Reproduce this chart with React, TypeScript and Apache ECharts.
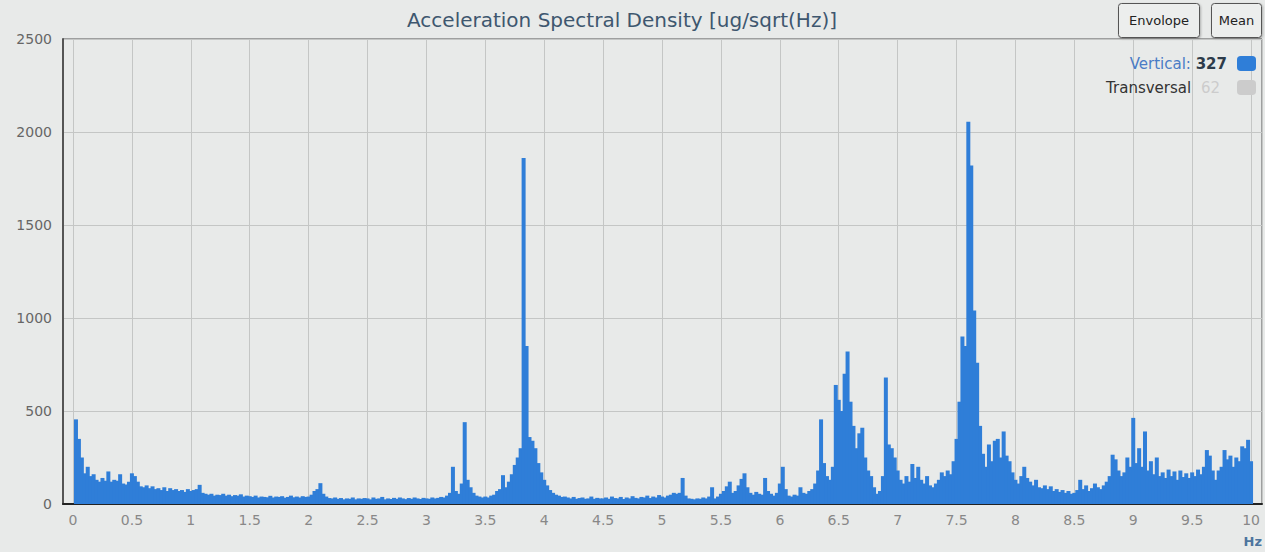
import { useEffect, useRef } from "react";
import * as echarts from "echarts";

// ---- texts ----
const TITLE = "Acceleration Spectral Density [ug/sqrt(Hz)]";
const X_UNIT = "Hz";
const SERIES_NAMES = ["Vertical", "Transversal"];
const LEGEND_VALUES = [327, 62];
const BUTTON_LABELS = ["Envolope", "Mean"];

// ---- axes ----
const BIN_HZ = 0.025; // frequency resolution of the spectrum bins
const X_MIN = -0.085;
const X_MAX = 10.093;
const X_STEP = 0.5;
const Y_MIN = 0;
const Y_MAX = 2500;
const Y_STEP = 500;

// ---- Vertical ASD values [ug/sqrt(Hz)], one value per bin, first bin at 0.025 Hz ----
const asd0to1Hz = [
  455, 350, 250, 165, 200, 150, 160, 130, 120, 140, 125, 175, 120, 130, 125, 160, 110, 105, 120,
  165, 150, 120, 95, 90, 100, 85, 95, 80, 85, 75, 90, 70, 85, 75, 80, 70, 75, 65, 80,
];
const asd1to2Hz = [
  70, 75, 80, 103, 60, 55, 50, 55, 45, 50, 48, 55, 45, 50, 42, 48, 45, 52, 40, 45,
  42, 38, 45, 35, 40, 38, 36, 44, 35, 40, 38, 42, 34, 38, 45, 36, 40, 35, 42, 38,
];
const asd2to3Hz = [
  40, 50, 70, 80, 112, 55, 40, 32, 30, 35, 28, 32, 25, 30, 28, 35, 25, 30, 28, 32,
  30, 25, 35, 28, 30, 38, 25, 30, 27, 33, 28, 35, 30, 26, 32, 28, 35, 30, 27, 33,
];
const asd3to4Hz = [
  30, 28, 35, 30, 33, 38, 35, 45, 60, 200, 70, 55, 110, 440, 130, 90, 60, 45, 40, 35,
  40, 35, 45, 50, 70, 80, 155, 90, 120, 160, 210, 250, 300, 1860, 850, 360, 340, 300, 220, 170,
];
const asd4to5Hz = [
  130, 100, 75, 60, 50, 45, 38, 40, 35, 30, 38, 28, 32, 35, 28, 30, 40, 28, 33, 30,
  30, 35, 28, 40, 32, 30, 38, 27, 35, 30, 42, 33, 30, 38, 35, 45, 32, 40, 35, 48,
];
const asd5to6Hz = [
  40, 35, 45, 50, 60, 55, 60, 140, 45, 30, 28, 25, 30, 28, 35, 30, 40, 90, 30, 40,
  55, 70, 95, 120, 60, 70, 100, 135, 165, 90, 60, 50, 65, 55, 50, 140, 70, 55, 45, 60,
];
const asd6to7Hz = [
  110, 200, 80, 45, 40, 50, 45, 90, 60, 55, 70, 80, 110, 180, 455, 220, 150, 130, 200, 640,
  560, 500, 700, 820, 550, 420, 300, 380, 410, 250, 180, 150, 90, 55, 70, 150, 680, 320, 300, 250,
];
const asd7to8Hz = [
  180, 130, 110, 150, 120, 215, 140, 200, 130, 110, 150, 100, 90, 110, 130, 170, 150, 180, 160, 230,
  350, 550, 900, 850, 2055, 1820, 1040, 760, 420, 270, 200, 320, 230, 340, 350, 250, 390, 260, 230, 170,
];
const asd8to9Hz = [
  130, 110, 150, 200, 140, 120, 100, 130, 90, 85, 100, 80, 95, 70, 80, 65, 75, 60, 70, 55,
  60, 75, 130, 80, 100, 70, 85, 110, 90, 80, 100, 120, 150, 265, 240, 180, 150, 170, 250, 200,
];
const asd9to10Hz = [
  463, 220, 300, 200, 390, 180, 230, 160, 250, 150, 170, 140, 185, 150, 175, 130, 180, 145, 165, 140,
  170, 150, 185, 160, 200, 290, 260, 180, 130, 180, 200, 290, 240, 260, 200, 250, 230, 310, 300, 345,
  230,
];

const verticalAsd = [
  ...asd0to1Hz, ...asd1to2Hz, ...asd2to3Hz, ...asd3to4Hz, ...asd4to5Hz,
  ...asd5to6Hz, ...asd6to7Hz, ...asd7to8Hz, ...asd8to9Hz, ...asd9to10Hz,
];
const transversalAsd: number[] = []; // hidden series (legend item switched off)

const FONT = "DejaVu Sans";

function buildOption() {
  const vData = verticalAsd.map((v, i) => [Number(((i + 1) * BIN_HZ).toFixed(3)), v]);
  const tData = transversalAsd.map((v, i) => [Number(((i + 1) * BIN_HZ).toFixed(3)), v]);

  const buttonGraphics = [
    { label: BUTTON_LABELS[0], left: 1118, width: 81 },
    { label: BUTTON_LABELS[1], left: 1211, width: 50 },
  ].map((b) => ({
    type: "group",
    left: b.left,
    top: 3,
    z: 100,
    children: [
      {
        type: "rect",
        shape: { x: 0, y: 0, width: b.width, height: 34, r: 3 },
        style: {
          fill: "#eceeed",
          stroke: "#555555",
          lineWidth: 1,
          shadowBlur: 2,
          shadowOffsetX: 1,
          shadowOffsetY: 1,
          shadowColor: "rgba(0,0,0,0.25)",
        },
      },
      {
        type: "text",
        style: {
          text: b.label,
          x: b.width / 2,
          y: 17,
          align: "center",
          verticalAlign: "middle",
          fontSize: 13,
          fontFamily: FONT,
          fill: "#222222",
        },
      },
    ],
  }));

  return {
    animation: false,
    backgroundColor: "#e8eae9",
    textStyle: { fontFamily: FONT },
    title: {
      text: TITLE,
      left: 617,
      top: 5,
      textAlign: "center",
      textStyle: { fontSize: 20, fontWeight: "normal", color: "#3e576f", fontFamily: FONT },
    },
    grid: {
      left: 63,
      right: 3,
      top: 39,
      bottom: 48,
      show: true,
      borderColor: "#555555",
      borderWidth: 1,
      backgroundColor: "transparent",
      containLabel: false,
      outerBoundsMode: "none",
    },
    legend: {
      orient: "vertical",
      right: 9,
      top: 56,
      padding: 0,
      align: "right",
      icon: "roundRect",
      itemWidth: 19,
      itemHeight: 15,
      itemGap: 9,
      data: SERIES_NAMES,
      selected: { [SERIES_NAMES[1]]: false },
      inactiveColor: "#cccccc",
      formatter: (name: string) =>
        name === SERIES_NAMES[0]
          ? `{a|${name}:} {b|${LEGEND_VALUES[0]}}`
          : `{c|${name}} {d|${LEGEND_VALUES[1]}}`,
      textStyle: {
        fontSize: 15,
        fontFamily: FONT,
        color: "#333333",
        rich: {
          a: { color: "#4a7cc6", fontSize: 15, fontFamily: FONT },
          b: { color: "#2d3b4a", fontSize: 15, fontWeight: "bold", fontFamily: FONT, padding: [0, 5, 0, 0] },
          c: { color: "#333333", fontSize: 15, fontFamily: FONT },
          d: { color: "#cccccc", fontSize: 15, fontFamily: FONT, padding: [0, 12, 0, 5] },
        },
      },
    },
    xAxis: {
      type: "value",
      min: X_MIN,
      max: X_MAX,
      splitNumber: 20,
      minInterval: X_STEP,
      maxInterval: X_STEP,
      name: X_UNIT,
      nameLocation: "end",
      nameGap: 0,
      nameTextStyle: {
        color: "#4d759e",
        fontWeight: "bold",
        fontSize: 13,
        fontFamily: FONT,
        align: "right",
        verticalAlign: "top",
        padding: [31, 0, 0, 0],
      },
      axisLine: { show: true, onZero: false, lineStyle: { color: "#222222", width: 2 } },
      axisTick: { show: false },
      axisLabel: {
        color: "#888888",
        fontSize: 14,
        fontFamily: FONT,
        margin: 9,
        showMinLabel: false,
        showMaxLabel: false,
      },
      splitLine: { show: true, lineStyle: { color: "#c4c6c5", width: 1 } },
    },
    yAxis: {
      type: "value",
      min: Y_MIN,
      max: Y_MAX,
      interval: Y_STEP,
      axisLine: { show: true, onZero: false, lineStyle: { color: "#555555", width: 2 } },
      axisTick: { show: false },
      axisLabel: {
        color: "#666666",
        fontSize: 14,
        fontFamily: FONT,
        margin: 11,
        formatter: (v: number) => String(v),
      },
      splitLine: { show: true, lineStyle: { color: "#c4c6c5", width: 1 } },
    },
    series: [
      {
        name: SERIES_NAMES[0],
        type: "bar",
        data: vData,
        barWidth: 4,
        barGap: "-100%",
        itemStyle: { color: "#2f7ed8" },
      },
      {
        name: SERIES_NAMES[1],
        type: "bar",
        data: tData,
        barWidth: 4,
        barGap: "-100%",
        itemStyle: { color: "#cccccc" },
      },
    ],
    graphic: buttonGraphics,
  };
}

export default function App() {
  const ref = useRef<HTMLDivElement>(null);
  useEffect(() => {
    if (!ref.current) return;
    const chart = echarts.init(ref.current, undefined, { renderer: "svg" });
    chart.setOption(buildOption() as any);
    return () => chart.dispose();
  }, []);
  return (
    <div
      ref={ref}
      style={{
        position: "fixed",
        left: 0,
        top: 0,
        width: 1265,
        height: 552,
        background: "#e8eae9",
      }}
    />
  );
}
